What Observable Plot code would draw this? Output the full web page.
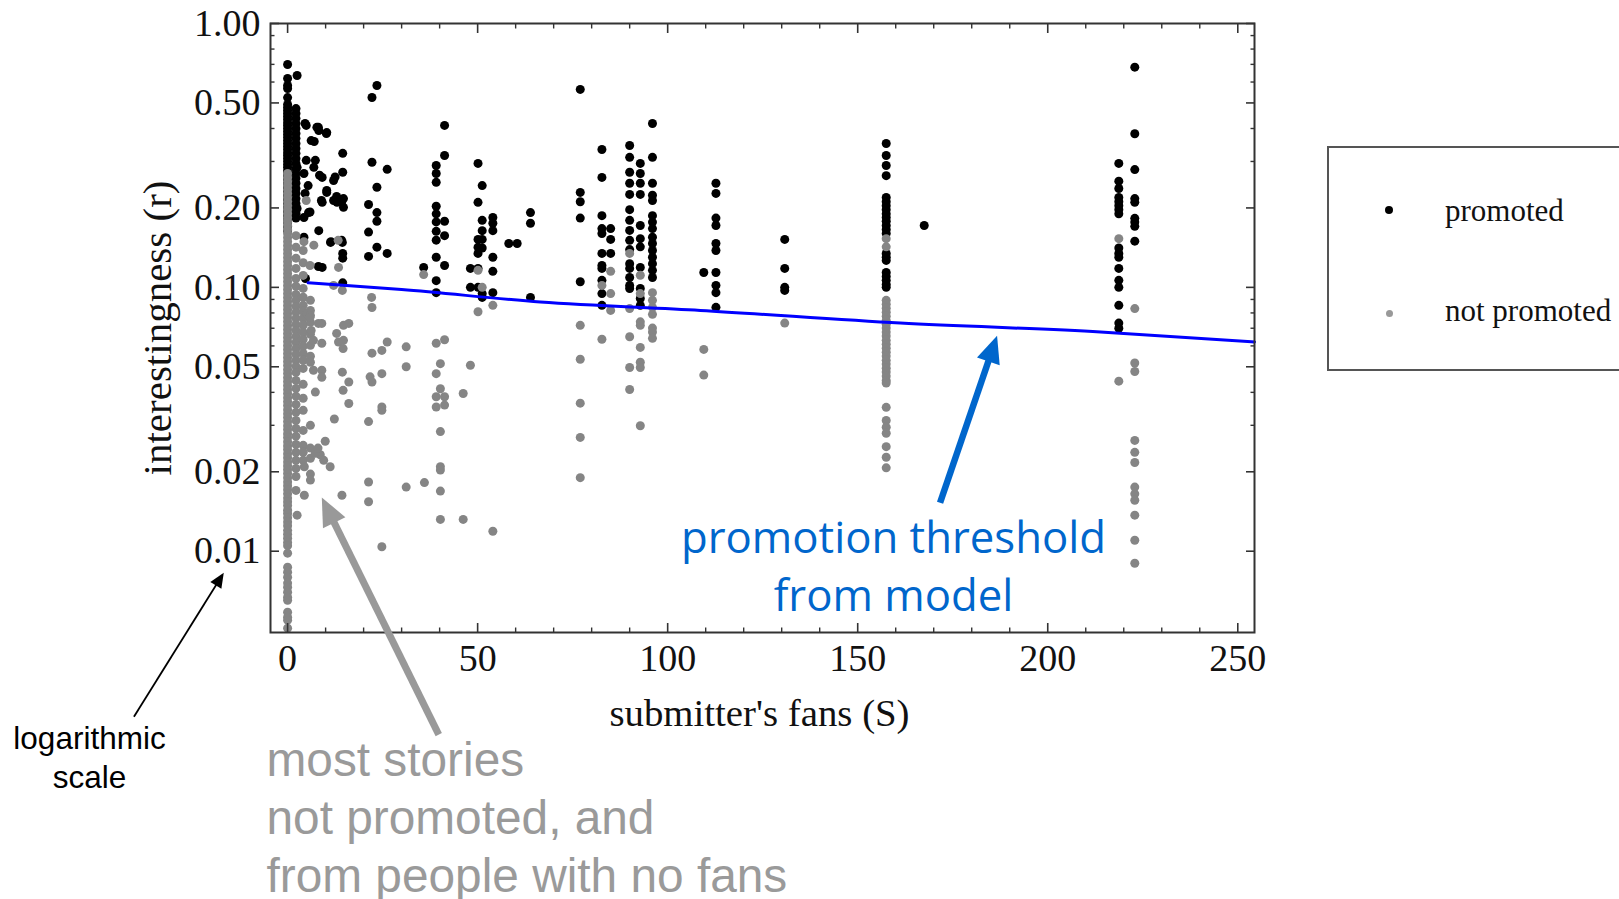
<!DOCTYPE html>
<html><head><meta charset="utf-8">
<script src="https://cdn.jsdelivr.net/npm/d3@7"></script>
<script src="https://cdn.jsdelivr.net/npm/@observablehq/plot@0.6"></script>
<style>
html,body{margin:0;padding:0;background:#fff;}
body{width:1619px;height:899px;overflow:hidden;position:relative;}
#legend{position:absolute;left:1327px;top:146px;width:400px;height:221px;border:2px solid #555;box-sizing:content-box;font-family:"Liberation Serif",serif;font-size:31px;color:#111;}
#legend .dot{position:absolute;border-radius:50%;}
#legend .lab{position:absolute;white-space:nowrap;line-height:1;}
</style></head>
<body><div id="chart"></div><div id="legend"></div>
<script>
// ---- axis ticks ----
const xMajorTicks = [0, 50, 100, 150, 200, 250];
const xMinorTicks = [10,20,30,40,60,70,80,90,110,120,130,140,160,170,180,190,210,220,230,240];
const yMajorTicks = [0.01, 0.02, 0.05, 0.1, 0.2, 0.5, 1.0];
const yMinorTicks = [0.03,0.04,0.06,0.07,0.08,0.09,0.3,0.4,0.6,0.7,0.8,0.9];

// ---- promoted stories: [fans S, [interestingness r ...]] ----
const promotedColumns = [
  [0, [0.699,0.619,0.582,0.567,0.524,0.493,0.480,0.468,0.456,0.444,0.433,0.421,0.411,0.400,0.390,0.380,0.370,0.360,0.351,0.342,0.333,0.324,0.316,0.308,0.300,0.292,0.285,0.277,0.270,0.263,0.256,0.250,0.243,0.237,0.231,0.225,0.219,0.214,0.208,0.203,0.197,0.192,0.187,0.183,0.177,0.170,0.164]],
  [2.2, [0.476,0.456,0.437,0.418,0.400,0.383,0.367,0.351,0.336,0.322,0.308,0.295,0.282,0.270,0.259,0.248,0.237,0.227,0.217,0.208,0.199,0.191,0.183]],
  [77, [0.5625,0.229,0.211,0.183,0.105]],
  [82.7, [0.333,0.261,0.187,0.167,0.160,0.1345,0.121,0.118,0.1063,0.0947,0.0855]],
  [85, [0.167,0.152,0.1345]],
  [90, [0.345,0.311,0.273,0.248,0.225,0.197,0.1795,0.1644,0.1507,0.139,0.123,0.118,0.109,0.1017,0.099]],
  [92.8, [0.295,0.270,0.248,0.225,0.1716,0.153,0.1424,0.119,0.099,0.0907,0.0855]],
  [96, [0.418,0.311,0.248,0.2233,0.2135,0.187,0.1767,0.167,0.155,0.1467,0.138,0.130,0.123,0.116,0.109]],
  [109.5, [0.1138]],
  [112.7, [0.248,0.227,0.183,0.1716,0.1467,0.138,0.1138,0.1017,0.0955,0.084]],
  [130.8, [0.152,0.118,0.100,0.0974]],
  [157.5, [0.351,0.316,0.2895,0.265,0.219,0.211,0.204,0.197,0.190,0.184,0.178,0.1716,0.1658,0.160,0.1345,0.130,0.1265,0.1138,0.110,0.1063,0.1026,0.100]],
  [167.5, [0.1716]],
  [218.7, [0.295,0.2526,0.237,0.219,0.211,0.204,0.197,0.190,0.141,0.1345,0.130,0.118,0.1063,0.100,0.0855,0.0732,0.0700]],
  [222.9, [0.683,0.382,0.2795,0.217,0.210,0.1826,0.1767,0.1703,0.1497]]
];
const promotedScattered = [
  [2.5,0.635],[2.5,0.285],[2.0,0.229],[2.5,0.199],[2.0,0.187],
  [4.9,0.411],[7.7,0.404],[8.2,0.393],[10.2,0.383],[7.0,0.357],[4.9,0.303],[7.3,0.303],[6.9,0.285],[4.3,0.270],
  [9.1,0.261],[12.1,0.254],[5.4,0.243],[4.6,0.227],[10.3,0.229],[9.1,0.210],[12.1,0.2135],[14.7,0.217],[13.0,0.210],
  [5.5,0.192],[14.7,0.201],[4.3,0.184],[8.2,0.164],[4.3,0.155],[11.3,0.148],[14.4,0.148],[14.5,0.1345],[14.5,0.129],
  [9.1,0.119],[4.7,0.108],[14.5,0.104],[14.5,0.322],[14.5,0.273],
  [8.4,0.266],[6.2,0.360],[4.6,0.418],[8.1,0.404],[10.3,0.386],[12.5,0.262],[12.9,0.221],[14.2,0.210],[8.9,0.2135],
  [10.3,0.233],[5.9,0.193],[11.4,0.149],[14.2,0.151],[8.1,0.120],
  [22.2,0.5245],[23.5,0.582],[22.2,0.298],[26.2,0.280],[23.5,0.2395],[21.3,0.206],[23.5,0.192],[23.5,0.178],
  [21.3,0.162],[23.5,0.142],[26.2,0.1345],[21.3,0.131],
  [41.3,0.411],[41.3,0.316],[39.1,0.2895],[39.1,0.270],[39.1,0.250],[39.1,0.203],[39.1,0.190],[39.1,0.177],
  [41.3,0.178],[39.1,0.163],[41.3,0.157],[39.1,0.151],[39.1,0.130],[41.3,0.121],[35.8,0.119],[39.1,0.106],[39.1,0.0955],
  [50.1,0.295],[51.2,0.243],[50.1,0.210],[51.2,0.1795],[54,0.184],[54,0.175],[51.2,0.164],[54,0.164],[50.1,0.152],
  [51.2,0.152],[50.1,0.142],[51.2,0.141],[50.1,0.1345],[54,0.130],[48.1,0.118],[50.1,0.118],[54,0.115],[48.1,0.100],
  [50.1,0.100],[51.2,0.0947],[54,0.0955],[51.2,0.0916],
  [58.2,0.1467],[60.4,0.1467],[63.9,0.192],[63.9,0.175],[63.9,0.0916]
];

// ---- not promoted stories ----
const notPromotedColumns = [
  [0, [0.2703,0.2610,0.2521,0.2434,0.2351,0.2270,0.2192,0.2117,0.2044,0.1974,0.1906,0.1841,0.1778,0.1717,0.1658,0.1601,
       0.1546,0.1493,0.1442,0.1392,0.1345,0.1298,0.1254,0.1211,0.1169,0.1129,0.1090,0.1053,0.1017,0.0982,0.0948,0.0916,
       0.0884,0.0854,0.0825,0.0796,0.0769,0.0743,0.0717,0.0693,0.0669,0.0646,0.0624,0.0602,0.0582,0.0562,0.0542,0.0524,
       0.0506,0.0488,0.0472,0.0455,0.0440,0.0425,0.0410,0.0396,0.0382,0.0369,0.0357,0.0344,0.0332,0.0321,0.0310,0.0299,
       0.0289,0.0279,0.0270,0.0260,0.0251,0.0243,0.0234,0.0226,0.0218,0.0211,0.0204,0.0197,0.0190,0.0183,0.0177,0.0171,
       0.0165,0.0159,0.0154,0.0149,0.0143,0.0139,0.0134,0.0129,0.0125,0.0120,0.0116,0.0112,0.0108,0.0105,
       0.00983,0.00870,0.00833,0.00797,0.00757,0.00730,0.00699,0.00669,0.00652,0.00587,0.00562,0.00548,0.00511]],
  [2.2, [0.157,0.142,0.129,0.118,0.108,0.101,0.094,0.0893,0.0847,0.0804,0.0763,0.0724,0.0687,0.0652,0.0619,0.0587,0.0557,
         0.0529,0.0502,0.0476,0.0444,0.0414,0.0387,0.0360,0.0336,0.0313,0.0292,0.0273,0.0254,0.0237,0.0221,0.0206,0.0192,0.0170]],
  [4.1, [0.138,0.124,0.111,0.0991,0.0917,0.0855,0.0811,0.0763,0.0718,0.0675,0.0635,0.0598,0.0562,0.0529,0.0493,0.0429,
         0.0380,0.0342,0.0287,0.0252,0.0237,0.0221]],
  [6.0, [0.0893,0.0818,0.0737,0.0664,0.0603,0.0548,0.0520,0.0300,0.0246,0.0225]],
  [77, [0.0718,0.0534,0.0364,0.0270,0.0190]],
  [82.7, [0.1017,0.0636]],
  [85, [0.115,0.0947,0.0818]],
  [90, [0.1345,0.0831,0.0650,0.0497,0.0410]],
  [92.8, [0.1112,0.0947,0.0740,0.0718,0.0592,0.0520,0.0497,0.0299]],
  [96, [0.0955,0.0893,0.0840,0.0790,0.0701,0.0677,0.0641]],
  [109.5, [0.0582,0.0465]],
  [130.8, [0.0732]],
  [157.5, [0.153,0.1424,0.0893,0.0863,0.0833,0.0805,0.0778,0.0750,0.0725,0.0701,0.0677,0.0654,0.0630,0.0609,0.0588,0.0568,
           0.0549,0.0529,0.0512,0.0494,0.0478,0.0461,0.0444,0.0434,0.0351,0.0313,0.0295,0.0280,0.0249,0.0227,0.0207]],
  [218.7, [0.153,0.0441]],
  [222.9, [0.0831,0.0517,0.0480,0.0263,0.0237,0.0217,0.0175,0.0165,0.0156,0.0137,0.0110,0.0090]]
];
const notPromotedScattered = [
  [12.3,0.0317],[11.2,0.0209],[14.3,0.0163],[4.4,0.0163],[2.5,0.0137],[6.0,0.0196],[6.0,0.0186],[4.4,0.0209],[8.6,0.0232],
  [9.9,0.0261],[7.3,0.0235],[7.3,0.0401],[6.8,0.0485],[9.0,0.0485],[9.0,0.0456],[9.0,0.0614],[9.0,0.0730],[6.8,0.0630],
  [5.1,0.0797],[6.0,0.0783],[13.4,0.0621],[14.7,0.0630],[14.6,0.0586],[14.4,0.0477],[16.1,0.0438],[14.6,0.0407],
  [16.1,0.0363],[14.7,0.0718],[16.1,0.0730],[21.3,0.0310],[21.3,0.0183],[21.3,0.0154],[22.2,0.0563],[22.2,0.0839],
  [21.7,0.0458],[22.2,0.0438],[24.8,0.0471],[24.8,0.0577],[26.2,0.0621],[24.8,0.0352],[24.8,0.0342],[24.8,0.0104],
  [31.2,0.0595],[31.2,0.0500],[31.2,0.0175],[36.0,0.0182],[39.1,0.0614],[41.3,0.0633],[40.2,0.0514],[39.1,0.0471],
  [40.2,0.0413],[39.1,0.0385],[41.3,0.0385],[39.1,0.0352],[41.3,0.0358],[40.2,0.0284],[40.2,0.0209],[40.2,0.0203],
  [40.2,0.0169],[40.2,0.0132],[46.2,0.0396],[46.2,0.0132],[48.1,0.0507],[54,0.0119],[50.1,0.0808],[54,0.0855],
  [4.9,0.2135],[4.3,0.149],[6.9,0.1445],[5.9,0.121],[13.4,0.119],[12.1,0.1017],[14.4,0.0974],[5.9,0.077],[8.1,0.0730],
  [22.1,0.0916],[12.9,0.0669],[6.2,0.0687],[13.3,0.1507],[35.8,0.1118],[50.1,0.116],[51.2,0.100],[8.0,0.0246],[9.5,0.0221]
];

// ---- promotion threshold from model ----
const thresholdS = [5.4, 30, 66.5, 108.6, 161.2, 213.9, 254.4];
const thresholdR = [0.1040, 0.0981, 0.0880, 0.0818, 0.0732, 0.0678, 0.0621];

// ---- annotations ----
const annotationTexts = ["logarithmic\nscale", "most stories\nnot promoted, and\nfrom people with no fans", "promotion threshold\nfrom model"];
const arrowFromS = [-40.3, 39.9, 171.8];
const arrowFromR = [0.00235, 0.00201, 0.0152];
const arrowToS = [-16.66, 9.13, 186.8];
const arrowToR = [0.00826, 0.0159, 0.0652];
const legendLabels = ["promoted", "not promoted"];

const flat = (cols, scattered) => [
  ...cols.flatMap(([s, rs]) => rs.map(r => ({S: s, r}))),
  ...scattered.map(([S, r]) => ({S, r}))
];
const promoted = flat(promotedColumns, promotedScattered);
const notPromoted = flat(notPromotedColumns, notPromotedScattered);
const threshold = thresholdS.map((s, i) => ({S: s, r: thresholdR[i]}));

const BLACK = "#000", GRAY = "#858585", BLUE = "#0000ff";
const axisCol = "#333";
const serif = "Liberation Serif, Times New Roman, serif";

const plot = Plot.plot({
  width: 1619, height: 899,
  marginLeft: 270, marginRight: 365, marginTop: 23, marginBottom: 267,
  style: {background: "white", overflow: "visible", fontFamily: serif},
  x: {type: "linear", domain: [-4.5, 254.4]},
  y: {type: "log", domain: [0.00492, 1.0]},
  marks: [
    Plot.dot(promoted, {x: "S", y: "r", r: 4.5, fill: BLACK}),
    Plot.dot(notPromoted, {x: "S", y: "r", r: 4.5, fill: GRAY}),
    Plot.line(threshold, {x: "S", y: "r", stroke: BLUE, strokeWidth: 3, curve: "monotone-x"}),
    // inward ticks on all four sides
    Plot.axisX(xMajorTicks, {anchor: "bottom", tickSize: 9, dy: -9, fill: "none", label: null, stroke: axisCol, strokeWidth: 1.6}),
    Plot.axisX(xMinorTicks, {anchor: "bottom", tickSize: 4.5, dy: -4.5, fill: "none", label: null, stroke: axisCol, strokeWidth: 1.4}),
    Plot.axisX(xMajorTicks, {anchor: "top", tickSize: 9, dy: 9, fill: "none", label: null, stroke: axisCol, strokeWidth: 1.6}),
    Plot.axisX(xMinorTicks, {anchor: "top", tickSize: 4.5, dy: 4.5, fill: "none", label: null, stroke: axisCol, strokeWidth: 1.4}),
    Plot.axisY(yMajorTicks, {anchor: "left", tickSize: 9, dx: 9, fill: "none", label: null, stroke: axisCol, strokeWidth: 1.6}),
    Plot.axisY(yMinorTicks, {anchor: "left", tickSize: 4.5, dx: 4.5, fill: "none", label: null, stroke: axisCol, strokeWidth: 1.4}),
    Plot.axisY(yMajorTicks, {anchor: "right", tickSize: 9, dx: -9, fill: "none", label: null, stroke: axisCol, strokeWidth: 1.6}),
    Plot.axisY(yMinorTicks, {anchor: "right", tickSize: 4.5, dx: -4.5, fill: "none", label: null, stroke: axisCol, strokeWidth: 1.4}),
    // tick labels
    Plot.axisX(xMajorTicks, {anchor: "bottom", tickSize: 0, tickPadding: 12, label: null, fontSize: 38, fontFamily: serif, fill: "#111", tickFormat: d => String(d)}),
    Plot.axisY(yMajorTicks, {anchor: "left", tickSize: 0, tickPadding: 10, label: null, fontSize: 38, fontFamily: serif, fill: "#111", tickFormat: d => d.toFixed(2)}),
    Plot.frame({stroke: axisCol, strokeWidth: 2}),
    // axis titles
    Plot.text(["submitter's fans (S)"], {frameAnchor: "bottom", dx: -3, dy: 81.5, textAnchor: "middle", lineAnchor: "middle", fontSize: 38.8, fontFamily: serif, fill: "#111"}),
    Plot.text(["interestingness (r)"], {frameAnchor: "left", dx: -112.5, rotate: -90, textAnchor: "middle", lineAnchor: "middle", fontSize: 41, fontFamily: serif, fill: "#111"}),
    // annotations
    Plot.text([annotationTexts[0]], {frameAnchor: "bottom-left", dx: -181, dy: 123.5, textAnchor: "middle", lineAnchor: "middle", fontSize: 31.5, lineHeight: 1.24, fontFamily: "Liberation Sans, Arial, sans-serif", fill: "#000"}),
    Plot.text([annotationTexts[1]], {frameAnchor: "bottom-left", dx: -4, dy: 183, textAnchor: "start", lineAnchor: "middle", fontSize: 47.8, lineHeight: 1.215, fontFamily: "Liberation Sans, Arial, sans-serif", fill: "#9a9a9a"}),
    Plot.text([annotationTexts[2]], {frameAnchor: "bottom-left", dx: 623, dy: -69, textAnchor: "middle", lineAnchor: "middle", fontSize: 43.7, lineHeight: 1.33, fontFamily: "Open Sans, Noto Sans, sans-serif", fill: "#0066cc"})
  ]
});

const svgEl = plot.tagName.toLowerCase() === "svg" ? plot : plot.querySelector("svg");
document.getElementById("chart").appendChild(plot);

// arrows (shaft + filled head) positioned through the plot's own scales
const sx = plot.scale("x"), sy = plot.scale("y");
const arrowStyle = [
  {color: "#000", width: 1.8, head: 15, half: 6.5},
  {color: "#999", width: 7, head: 28, half: 12.5},
  {color: "#0066cc", width: 6.5, head: 27, half: 12}
];
const g = d3.select(svgEl).append("g").attr("class", "arrows");
arrowFromS.forEach((_, i) => {
  const st = arrowStyle[i];
  const x1 = sx.apply(arrowFromS[i]), y1 = sy.apply(arrowFromR[i]);
  const x2 = sx.apply(arrowToS[i]), y2 = sy.apply(arrowToR[i]);
  const dx = x2 - x1, dy = y2 - y1, len = Math.hypot(dx, dy), ux = dx / len, uy = dy / len;
  const bx = x2 - ux * st.head, by = y2 - uy * st.head;
  g.append("line").attr("x1", x1).attr("y1", y1).attr("x2", bx + ux * 2).attr("y2", by + uy * 2)
    .attr("stroke", st.color).attr("stroke-width", st.width);
  g.append("path").attr("d", `M${x2},${y2}L${bx - uy * st.half},${by + ux * st.half}L${bx + uy * st.half},${by - ux * st.half}Z`)
    .attr("fill", st.color);
});

// legend
const legend = d3.select("#legend");
const legendColors = ["#000", "#999"];
const legendDot = [8, 7];
const legendDotTop = [62, 165];
const legendTextTop = [47, 147];
legendLabels.forEach((lab, i) => {
  legend.append("div").attr("class", "dot")
    .style("left", `${60 - legendDot[i] / 2}px`).style("top", `${legendDotTop[i] - legendDot[i] / 2}px`)
    .style("width", `${legendDot[i]}px`).style("height", `${legendDot[i]}px`).style("background", legendColors[i]);
  legend.append("div").attr("class", "lab").style("left", "116px").style("top", `${legendTextTop[i]}px`).text(lab);
});
</script>
</body></html>
